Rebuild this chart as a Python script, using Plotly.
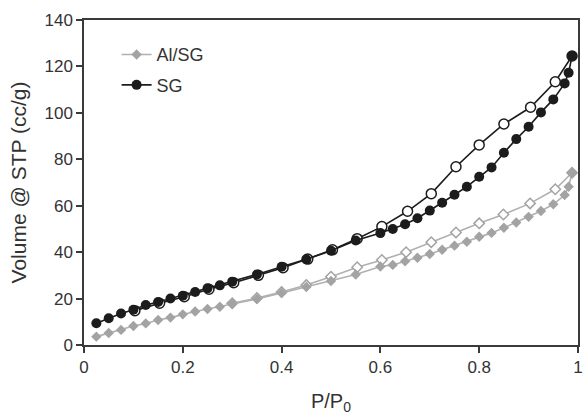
import plotly.graph_objects as go

# Nitrogen isotherms: relative pressure vs adsorbed volume
sg_ads_p = [0.025, 0.05, 0.075, 0.1, 0.125, 0.15, 0.175, 0.2, 0.225, 0.25, 0.275, 0.3,
            0.35, 0.4, 0.45, 0.5, 0.55, 0.6, 0.625, 0.65, 0.675, 0.7, 0.725, 0.75,
            0.775, 0.8, 0.825, 0.85, 0.875, 0.9, 0.925, 0.95, 0.973, 0.981, 0.988]
sg_ads_v = [9.4, 11.5, 13.6, 15.2, 17.2, 18.5, 20.0, 21.2, 22.8, 24.4, 25.7, 27.3,
            30.4, 33.7, 36.9, 40.6, 45.0, 48.2, 50.0, 52.0, 54.6, 57.9, 61.3, 64.7,
            68.2, 72.5, 76.5, 82.8, 88.7, 94.0, 100.2, 105.8, 112.7, 117.3, 124.5]
sg_des_p = [0.988, 0.954, 0.904, 0.85, 0.8, 0.753, 0.703, 0.655, 0.603, 0.553, 0.503,
            0.453, 0.403, 0.353, 0.303, 0.253, 0.203, 0.153, 0.103]
sg_des_v = [124.5, 113.4, 102.4, 95.2, 86.2, 76.8, 65.2, 57.6, 51.0, 45.8, 41.0,
            37.0, 33.3, 30.0, 26.8, 24.0, 20.8, 18.0, 14.8]

alsg_ads_p = [0.025, 0.05, 0.075, 0.1, 0.125, 0.15, 0.175, 0.2, 0.225, 0.25, 0.275, 0.3,
              0.35, 0.4, 0.45, 0.5, 0.55, 0.6, 0.625, 0.65, 0.675, 0.7, 0.725, 0.75,
              0.775, 0.8, 0.825, 0.85, 0.875, 0.9, 0.925, 0.95, 0.973, 0.981, 0.988]
alsg_ads_v = [3.6, 5.2, 6.5, 8.2, 9.3, 10.8, 11.8, 13.2, 14.4, 15.5, 16.5, 17.8,
              19.8, 22.4, 25.0, 27.6, 30.4, 33.8, 34.5, 36.1, 37.6, 39.2, 41.0, 42.8,
              44.5, 46.6, 48.3, 50.5, 52.8, 55.2, 57.7, 60.6, 64.6, 68.2, 74.2]
alsg_des_p = [0.988, 0.954, 0.903, 0.849, 0.8, 0.753, 0.703, 0.652, 0.603, 0.553, 0.5,
              0.45, 0.4, 0.35, 0.3]
alsg_des_v = [74.2, 67.1, 61.0, 56.2, 52.4, 48.5, 44.3, 40.0, 36.6, 33.5, 29.4,
              25.8, 22.8, 20.2, 18.0]

x_ticks = [0, 0.2, 0.4, 0.6, 0.8, 1]
x_tick_text = ["0", "0.2", "0.4", "0.6", "0.8", "1"]
y_ticks = [0, 20, 40, 60, 80, 100, 120, 140]

SG_COLOR = "#1c1c1c"
AL_COLOR = "#a3a3a3"
AL_LINE = "#b0b0b0"
FONT = "Liberation Sans, Arial, sans-serif"

fig = go.Figure()

# desorption branches (open markers)
fig.add_trace(go.Scatter(
    x=alsg_des_p, y=alsg_des_v, mode="lines+markers", showlegend=False,
    line=dict(color=AL_LINE, width=1.6),
    marker=dict(symbol="diamond", size=8, color="white",
                line=dict(color=AL_COLOR, width=1.5)),
))
fig.add_trace(go.Scatter(
    x=sg_des_p, y=sg_des_v, mode="lines+markers", showlegend=False,
    line=dict(color=SG_COLOR, width=1.6),
    marker=dict(symbol="circle", size=10, color="white",
                line=dict(color=SG_COLOR, width=1.5)),
))

# adsorption branches (filled markers)
fig.add_trace(go.Scatter(
    x=alsg_ads_p, y=alsg_ads_v, mode="lines+markers", name="Al/SG",
    legendgroup="a",
    line=dict(color=AL_LINE, width=1.6),
    marker=dict(symbol="diamond", size=8, color=AL_COLOR),
))
fig.add_trace(go.Scatter(
    x=sg_ads_p, y=sg_ads_v, mode="lines+markers", name="SG",
    legendgroup="b",
    line=dict(color=SG_COLOR, width=1.6),
    marker=dict(symbol="circle", size=10, color=SG_COLOR),
))

axis_common = dict(
    showline=True, linecolor="#3a3a3a", linewidth=1.5, mirror=True,
    ticks="outside", ticklen=6, tickwidth=1.5, tickcolor="#3a3a3a",
    showgrid=False, zeroline=False,
    tickfont=dict(family=FONT, size=17, color="#333333"),
)

fig.update_layout(
    width=586, height=419,
    margin=dict(l=84, r=3, t=20, b=74),
    paper_bgcolor="white", plot_bgcolor="white",
    font=dict(family=FONT, color="#333333"),
    xaxis=dict(range=[0, 1], tickvals=x_ticks, ticktext=x_tick_text,
               title=dict(text="P/P<sub>0</sub>", font=dict(size=20), standoff=18),
               **axis_common),
    yaxis=dict(range=[0, 140], tickvals=y_ticks,
               title=dict(text="Volume @ STP (cc/g)", font=dict(size=21), standoff=12),
               **axis_common),
    legend=dict(x=0.066, y=0.95, xanchor="left", yanchor="top",
                bgcolor="rgba(0,0,0,0)", font=dict(size=18, color="#333333"),
                tracegroupgap=4, traceorder="grouped"),
)

fig.write_html("out.html")
